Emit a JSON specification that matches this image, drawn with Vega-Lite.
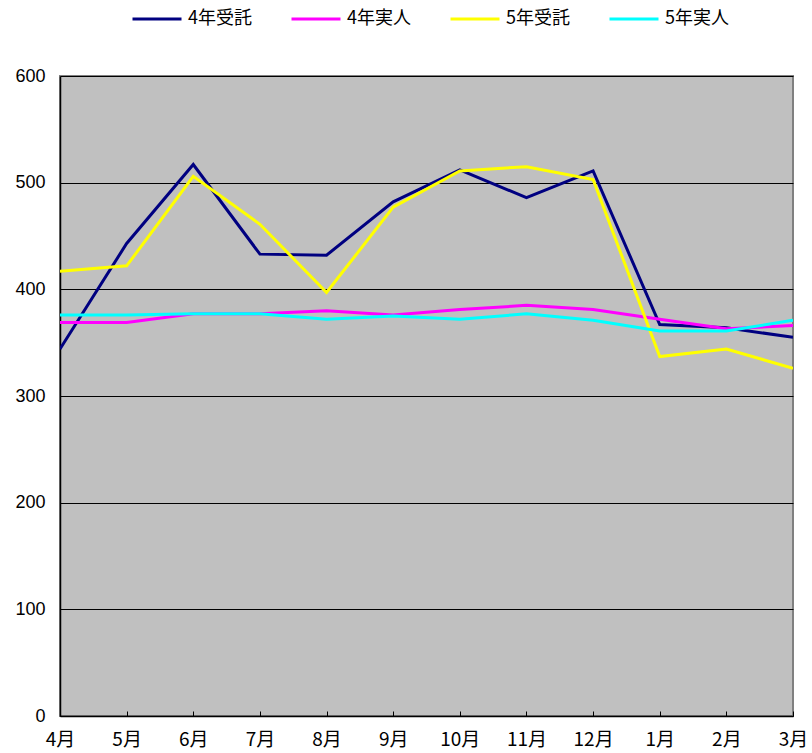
{
  "$schema": "https://vega.github.io/schema/vega-lite/v6.json",
  "autosize": "none",
  "width": 733,
  "height": 640,
  "padding": {"left": 60, "top": 76, "right": 19, "bottom": 37},
  "background": "#ffffff",
  "data": {
    "values": [
      {"m": "4月", "i": 1, "4年受託": 344, "4年実人": 369, "5年受託": 417, "5年実人": 376},
      {"m": "5月", "i": 2, "4年受託": 443, "4年実人": 369, "5年受託": 422, "5年実人": 376},
      {"m": "6月", "i": 3, "4年受託": 517, "4年実人": 377, "5年受託": 506, "5年実人": 377},
      {"m": "7月", "i": 4, "4年受託": 433, "4年実人": 377, "5年受託": 461, "5年実人": 377},
      {"m": "8月", "i": 5, "4年受託": 432, "4年実人": 380, "5年受託": 397, "5年実人": 372},
      {"m": "9月", "i": 6, "4年受託": 482, "4年実人": 376, "5年受託": 477, "5年実人": 375},
      {"m": "10月", "i": 7, "4年受託": 512, "4年実人": 381, "5年受託": 511, "5年実人": 372},
      {"m": "11月", "i": 8, "4年受託": 486, "4年実人": 385, "5年受託": 515, "5年実人": 377},
      {"m": "12月", "i": 9, "4年受託": 511, "4年実人": 381, "5年受託": 503, "5年実人": 371},
      {"m": "1月", "i": 10, "4年受託": 367, "4年実人": 372, "5年受託": 337, "5年実人": 361},
      {"m": "2月", "i": 11, "4年受託": 364, "4年実人": 363, "5年受託": 344, "5年実人": 361},
      {"m": "3月", "i": 12, "4年受託": 355, "4年実人": 366, "5年受託": 326, "5年実人": 371}
    ]
  },
  "transform": [
    {"fold": ["4年受託", "4年実人", "5年受託", "5年実人"], "as": ["series", "value"]}
  ],
  "mark": {"type": "line", "strokeWidth": 3, "clip": true},
  "encoding": {
    "x": {
      "field": "m",
      "type": "ordinal",
      "sort": ["4月", "5月", "6月", "7月", "8月", "9月", "10月", "11月", "12月", "1月", "2月", "3月"],
      "scale": {"type": "point", "padding": 0},
      "axis": {
        "title": null,
        "labelAngle": 0,
        "labelFont": "Noto Sans CJK JP",
        "labelFontSize": 19,
        "labelColor": "#000000",
        "labelPadding": 19,
        "tickSize": -5,
        "tickColor": "#000000",
        "tickWidth": 1,
        "domainColor": "#000000",
        "domainWidth": 1.5,
        "grid": false
      }
    },
    "y": {
      "field": "value",
      "type": "quantitative",
      "scale": {"domain": [0, 600], "nice": false},
      "axis": {
        "title": null,
        "values": [0, 100, 200, 300, 400, 500, 600],
        "labelFont": "Liberation Sans",
        "labelFontSize": 18,
        "labelColor": "#000000",
        "labelPadding": 15,
        "ticks": false,
        "domainColor": "#000000",
        "domainWidth": 1.5,
        "grid": true,
        "gridColor": "#000000",
        "gridWidth": 1,
        "gridOpacity": 1
      }
    },
    "color": {
      "field": "series",
      "type": "nominal",
      "scale": {
        "domain": ["4年受託", "4年実人", "5年受託", "5年実人"],
        "range": ["#000080", "#FF00FF", "#FFFF00", "#00FFFF"]
      },
      "legend": {
        "title": null,
        "orient": "none",
        "direction": "horizontal",
        "columns": 4,
        "legendX": 71,
        "legendY": -83,
        "padding": 0,
        "symbolType": "stroke",
        "symbolSize": 2401,
        "symbolStrokeWidth": 3,
        "labelFont": "Noto Sans CJK JP",
        "labelFontSize": 18,
        "labelColor": "#000000",
        "labelOffset": 5,
        "columnPadding": 33,
        "labelLimit": 200
      }
    },
    "order": {"field": "i", "type": "quantitative"}
  },
  "config": {
    "view": {"fill": "#C0C0C0", "stroke": "#808080", "strokeWidth": 2}
  }
}
